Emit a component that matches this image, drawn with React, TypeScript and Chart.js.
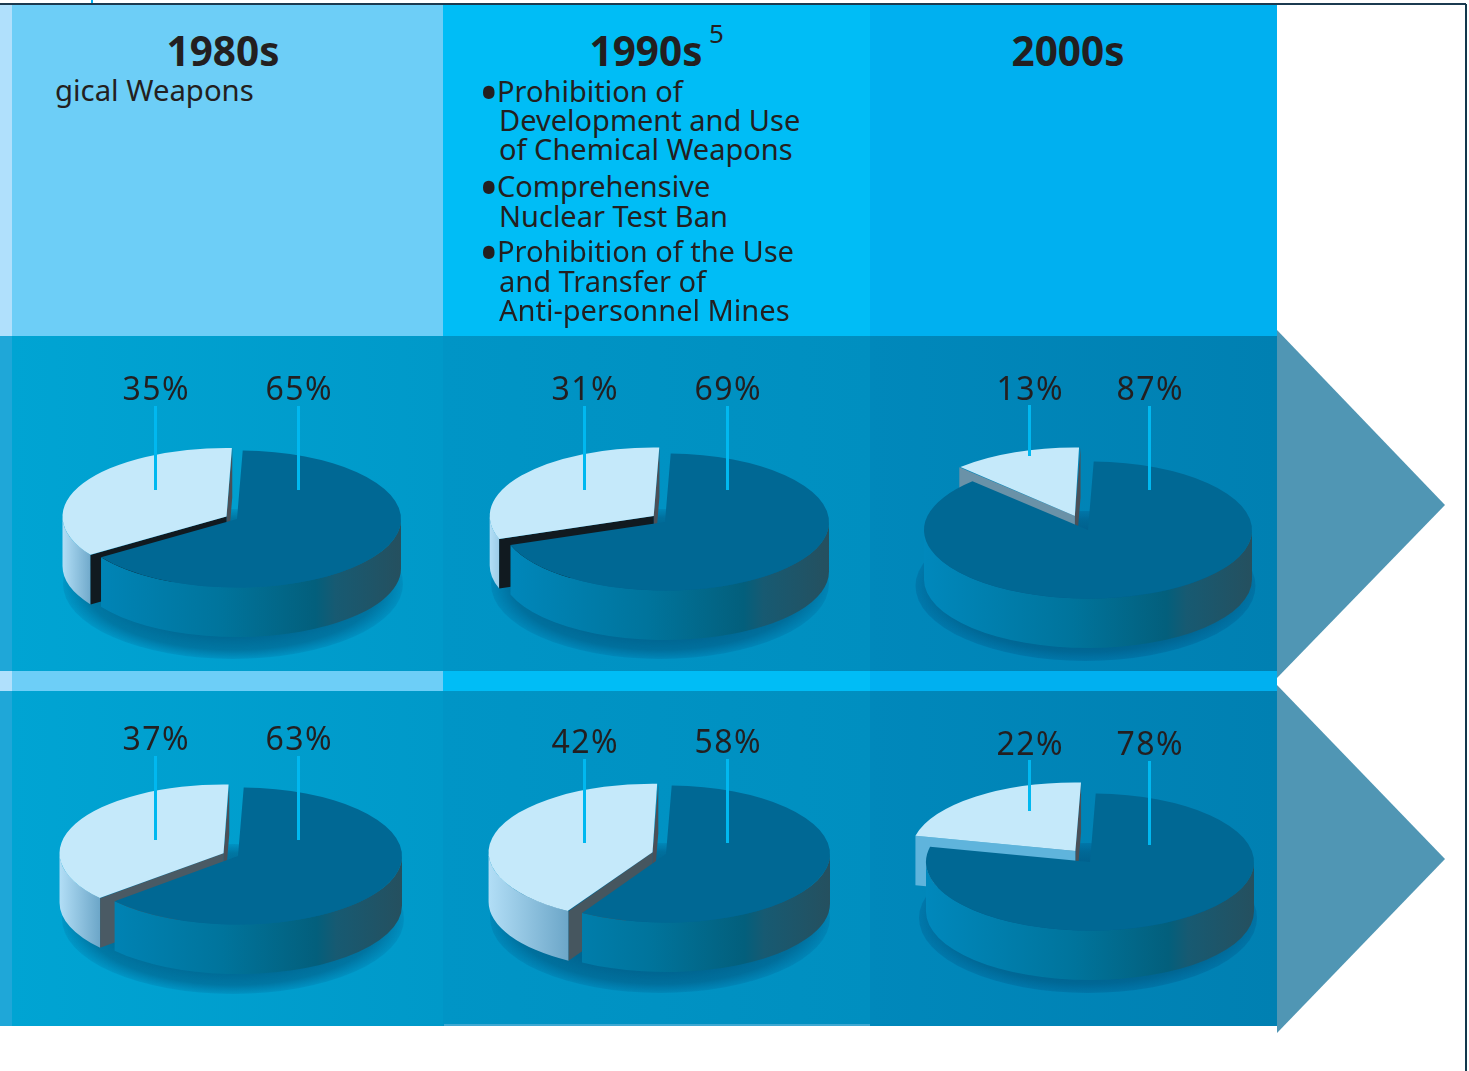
import React, { useEffect, useRef } from "react";
import { Chart, registerables } from "chart.js";

Chart.register(...registerables);

// ---------- data ----------
const decades = ["1980s", "1990s", "2000s"];
const row1Light = [35, 31, 13];
const row1Dark = [65, 69, 87];
const row2Light = [37, 42, 22];
const row2Dark = [63, 58, 78];
const textLines1980s = ["gical Weapons"];
const textLines1990s = [
  "Prohibition of",
  "Development and Use",
  "of Chemical Weapons",
  "Comprehensive",
  "Nuclear Test Ban",
  "Prohibition of the Use",
  "and Transfer of",
  "Anti-personnel Mines",
];
const bulletedLines = [0, 3, 5];

// ---------- layout & style (not data) ----------
const FONT = '"Noto Sans", "Open Sans", sans-serif';
const INK = "#231f20";
const R = 164;
const SQUASH = 0.418;
const DEPTH = 49.5;
const CANVAS = 420;

const pieLayout = [
  { cx: 237, cy: 519, offset: 48, lift: 0, wall: "#111a20", sx: 233, sy: 584, srx: 170, sry: 75, edge: 0.12 },
  { cx: 664.5, cy: 521.5, offset: 56, lift: 2.5, wall: "#111a20", sx: 660, sy: 584, srx: 169, sry: 75, edge: 0.14 },
  { cx: 1087.5, cy: 530, offset: 144, lift: 0, wall: "#6a92a8", sx: 1085.5, sy: 586, srx: 170, sry: 75, edge: 0.22 },
  { cx: 237.5, cy: 855.5, offset: 64, lift: 0, wall: "#4a5a64", sx: 233, sy: 919, srx: 171, sry: 75, edge: 0.12 },
  { cx: 665.5, cy: 853.5, offset: 56, lift: 0, wall: "#46565f", sx: 660, sy: 918, srx: 170, sry: 75, edge: 0.14 },
  { cx: 1090, cy: 862, offset: 96, lift: 3, wall: "#5fb4dc", sx: 1088, sy: 918, srx: 169, sry: 75, edge: 0.22 },
];

const leaderLayout = [
  { lx: 155.5, rx: 298.5, lTop: 406, lBot: 490, rTop: 406, rBot: 490, ty: 388.5 },
  { lx: 584.5, rx: 727.5, lTop: 406, lBot: 490, rTop: 406, rBot: 490, ty: 388.5 },
  { lx: 1029.5, rx: 1149.5, lTop: 405, lBot: 456, rTop: 406, rBot: 490, ty: 388.5 },
  { lx: 155.5, rx: 298.5, lTop: 756, lBot: 840, rTop: 756, rBot: 840, ty: 738.5 },
  { lx: 584.5, rx: 727.5, lTop: 759, lBot: 843, rTop: 759, rBot: 843, ty: 741.5 },
  { lx: 1029.5, rx: 1149.5, lTop: 760, lBot: 811, rTop: 761, rBot: 845, ty: 743.5 },
];

const TAU = Math.PI * 2;

const pie3d = {
  id: "pie3d",
  beforeDatasetsDraw(chart: any, _a: any, opts: any) {
    const { ctx } = chart;
    const [dark, light] = chart.getDatasetMeta(0).data;
    const cx = dark.x;
    const cy = dark.y;
    const r = dark.outerRadius;
    const left = chart.canvas.offsetLeft;
    const top = chart.canvas.offsetTop;
    const lightMid = (light.startAngle + light.endAngle) / 2;
    const d = (light.options.offset || 0) / 4;
    const lx = cx + Math.cos(lightMid) * d;
    const ly = cy + Math.sin(lightMid) * d * SQUASH - opts.lift;
    // the arc element widens an offset slice; keep it at the pie's radius
    const fix = 1 - Math.sin(Math.min(Math.PI, light.circumference));
    light.outerRadius = r - d * fix;
    light.y = cy - opts.lift / SQUASH;

    ctx.save();
    // soft shadow under the disc
    const sx = opts.sx - left;
    const sy = opts.sy - top;
    ctx.save();
    ctx.translate(sx, sy);
    ctx.scale(1, opts.sry / opts.srx);
    const sg = ctx.createRadialGradient(0, 0, 0, 0, 0, opts.srx);
    sg.addColorStop(0, "rgba(0,70,110,0.6)");
    sg.addColorStop(0.7, "rgba(0,70,110,0.6)");
    sg.addColorStop(0.88, "rgba(0,70,110,0.45)");
    sg.addColorStop(1, `rgba(0,70,120,${opts.edge})`);
    ctx.fillStyle = sg;
    ctx.beginPath();
    ctx.arc(0, 0, opts.srx, 0, TAU);
    ctx.fill();
    ctx.restore();

    const outerWall = (x: number, y: number, a0: number, a1: number, fill: any) => {
      for (const shift of [-TAU, 0, TAU]) {
        const from = Math.max(a0 + shift, 0);
        const to = Math.min(a1 + shift, Math.PI);
        if (to <= from) continue;
        ctx.fillStyle = fill;
        ctx.beginPath();
        ctx.ellipse(x, y, r, r * SQUASH, 0, from, to);
        ctx.ellipse(x, y + DEPTH, r, r * SQUASH, 0, to, from, true);
        ctx.closePath();
        ctx.fill();
      }
    };
    const radialWall = (x: number, y: number, a: number, fill: string) => {
      const px = x + Math.cos(a) * r;
      const py = y + Math.sin(a) * r * SQUASH;
      ctx.fillStyle = fill;
      ctx.beginPath();
      ctx.moveTo(x, y);
      ctx.lineTo(px, py);
      ctx.lineTo(px, py + DEPTH);
      ctx.lineTo(x, y + DEPTH);
      ctx.closePath();
      ctx.fill();
    };

    // light block
    const wallX = lx + Math.cos(light.startAngle) * r;
    const lg = ctx.createLinearGradient(lx - r, 0, Math.max(wallX, lx - r + 30), 0);
    lg.addColorStop(0, "#b2def6");
    lg.addColorStop(1, "#6ca6c8");
    outerWall(lx, ly, light.startAngle, light.endAngle, lg);
    radialWall(lx, ly, light.endAngle, "#4a5058");
    radialWall(lx, ly, light.startAngle, opts.wall);

    // dark block
    const dg = ctx.createLinearGradient(cx - r, 0, cx + r, 0);
    dg.addColorStop(0, "#0088bc");
    dg.addColorStop(0.45, "#00749c");
    dg.addColorStop(0.74, "#035f7c");
    dg.addColorStop(0.8, "#175a72");
    dg.addColorStop(1, "#25505f");
    outerWall(cx, cy, dark.startAngle, dark.endAngle, dg);
    ctx.restore();

    // tops: the library's own arcs, flattened about the pie centre
    ctx.save();
    ctx.translate(cx, cy);
    ctx.scale(1, SQUASH);
    ctx.translate(-cx, -cy);
  },
  afterDatasetsDraw(chart: any) {
    chart.ctx.restore();
  },
};

function Pie({ dark, light, layout }: { dark: number; light: number; layout: (typeof pieLayout)[number] }) {
  const ref = useRef<HTMLCanvasElement | null>(null);
  useEffect(() => {
    const chart = new Chart(ref.current as HTMLCanvasElement, {
      type: "pie",
      data: {
        labels: ["Dark", "Light"],
        datasets: [
          {
            data: [dark, light],
            backgroundColor: ["#006894", "#c5e9fa"],
            borderWidth: 0,
            offset: [0, layout.offset],
            clip: false,
          } as any,
        ],
      },
      options: {
        animation: false,
        responsive: false,
        devicePixelRatio: 1,
        rotation: 2,
        radius: R,
        layout: { padding: 0 },
        events: [],
        plugins: {
          legend: { display: false },
          tooltip: { enabled: false },
          pie3d: layout,
        } as any,
      },
      plugins: [pie3d as any],
    });
    return () => chart.destroy();
  }, []);
  return (
    <canvas
      ref={ref}
      width={CANVAS}
      height={CANVAS}
      style={{
        position: "absolute",
        left: layout.cx - CANVAS / 2,
        top: layout.cy - CANVAS / 2,
        width: CANVAS,
        height: CANVAS,
      }}
    />
  );
}

const box = (left: number, top: number, width: number, height: number, background: string): React.CSSProperties => ({
  position: "absolute",
  left,
  top,
  width,
  height,
  background,
});

function Line({ x, y, size, weight = 400, children, spacing = 0, center = false }: any) {
  return (
    <div
      style={{
        position: "absolute",
        left: center ? x - 150 : x,
        width: center ? 300 : undefined,
        textAlign: center ? "center" : "left",
        top: y - size * 0.7,
        height: size * 1.4,
        lineHeight: `${size * 1.4}px`,
        fontFamily: FONT,
        fontSize: size,
        fontWeight: weight,
        letterSpacing: spacing,
        color: INK,
        whiteSpace: "nowrap",
      }}
    >
      {children}
    </div>
  );
}

const columns = [
  { x: 0, w: 12, head: "#b0e0fc", body: "#1fa7d8" },
  { x: 12, w: 431, head: "#6dcef7", body: "linear-gradient(90deg,#00a4d3,#0099c9)" },
  { x: 443, w: 427, head: "#00bdf6", body: "linear-gradient(90deg,#0095c6,#008fc0)" },
  { x: 870, w: 407, head: "#00b0f0", body: "linear-gradient(90deg,#0088bb,#0080b2)" },
];

const body1990Y = [91.5, 120.5, 149.5, 186.5, 216.5, 251.5, 281.5, 310.5];

export default function App() {
  const shares = [...row1Light, ...row2Light];
  const rests = [...row1Dark, ...row2Dark];
  return (
    <div style={{ position: "absolute", left: 0, top: 0, width: 1469, height: 1071, overflow: "hidden", background: "#fff" }}>
      {columns.map((c, i) => (
        <React.Fragment key={i}>
          <div style={box(c.x, 5, c.w, 331, c.head)} />
          <div style={box(c.x, 336, c.w, 335, c.body)} />
          <div style={box(c.x, 671, c.w, 20, c.head)} />
          <div style={box(c.x, 691, c.w, 335, c.body)} />
        </React.Fragment>
      ))}
      <div style={box(444, 1024, 426, 2, "#3fa8d2")} />
      <svg width={1469} height={1071} style={{ position: "absolute", left: 0, top: 0 }}>
        <polygon points="1277,330 1445,505 1277,678" fill="#5096b4" />
        <polygon points="1277,685 1445,859 1277,1033" fill="#5096b4" />
      </svg>
      <div style={box(0, 3, 1466, 2, "#1b3a50")} />
      <div style={box(1465, 4, 1.5, 1067, "#12384c")} />
      <div style={box(91, 0, 2, 3, "#00aeef")} />

      {pieLayout.map((layout, i) => (
        <Pie key={i} dark={rests[i]} light={shares[i]} layout={layout} />
      ))}

      {leaderLayout.map((l, i) => (
        <React.Fragment key={i}>
          <div style={box(l.lx - 1.5, l.lTop, 3, l.lBot - l.lTop, "#00b8f0")} />
          <div style={box(l.rx - 1.5, l.rTop, 3, l.rBot - l.rTop, "#00b8f0")} />
          <Line x={l.lx + 0.75} y={l.ty} size={32} spacing={1.5} center>{`${shares[i]}%`}</Line>
          <Line x={l.rx + 0.75} y={l.ty} size={32} spacing={1.5} center>{`${rests[i]}%`}</Line>
        </React.Fragment>
      ))}

      <Line x={223} y={51} size={40.5} weight={700} center>{decades[0]}</Line>
      <Line x={646} y={51} size={40.5} weight={700} center>{decades[1]}</Line>
      <Line x={1068} y={51} size={40.5} weight={700} center>{decades[2]}</Line>
      <Line x={709} y={33} size={26}>5</Line>
      <Line x={55} y={90.5} size={29.3}>{textLines1980s[0]}</Line>
      {textLines1990s.map((t, i) =>
        bulletedLines.includes(i) ? (
          <React.Fragment key={i}>
            <Line x={479} y={body1990Y[i] + 0.5} size={52}>•</Line>
            <Line x={497} y={body1990Y[i]} size={29}>{t}</Line>
          </React.Fragment>
        ) : (
          <Line key={i} x={499} y={body1990Y[i]} size={29}>{t}</Line>
        )
      )}
    </div>
  );
}
